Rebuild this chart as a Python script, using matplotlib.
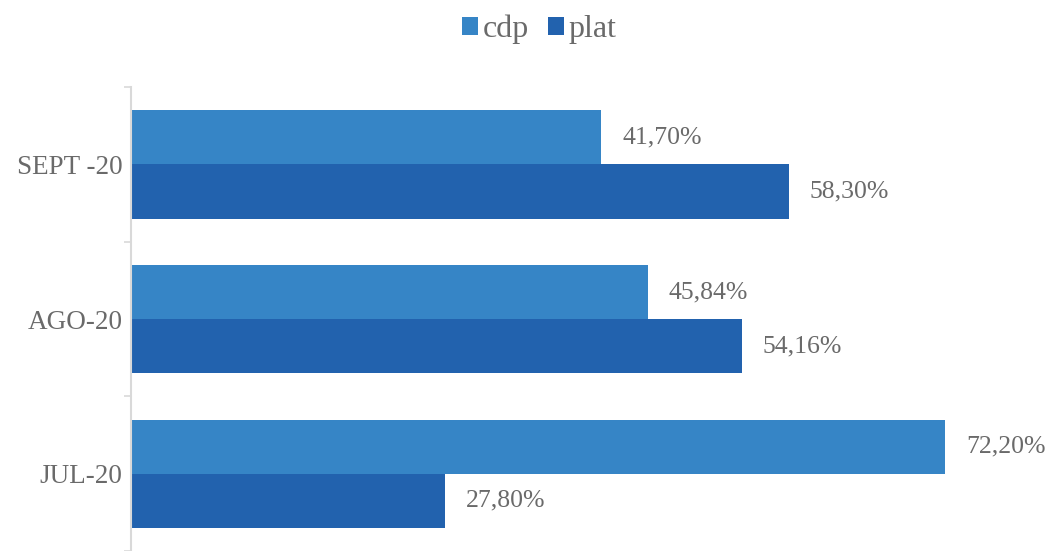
import matplotlib

matplotlib.use("Agg")
import matplotlib.pyplot as plt
import numpy as np

months = ["JUL-20", "AGO-20", "SEPT -20"]
cdp = [72.20, 45.84, 41.70]
plat = [27.80, 54.16, 58.30]

cdp_color = "#3685C6"
plat_color = "#2262AE"
text_color = "#6A6A6A"

plt.rcParams["font.family"] = ["Liberation Serif", "DejaVu Serif"]

fig = plt.figure(figsize=(10.47, 5.51), dpi=100)
ax = fig.add_axes([0.1251, 0.0, 0.862, 0.842])

y = np.arange(len(months))
h = 0.35
bars_cdp = ax.barh(y + h / 2, cdp, height=h, color=cdp_color, label="cdp")
bars_plat = ax.barh(y - h / 2, plat, height=h, color=plat_color, label="plat")

def pct(v):
    return f"{v:.2f}%".replace(".", ",")

for bars, vals in ((bars_cdp, cdp), (bars_plat, plat)):
    for bar, v in zip(bars, vals):
        ax.annotate(pct(v), (v, bar.get_y() + bar.get_height() / 2),
                    xytext=(15, 0), textcoords="offset points",
                    va="center", ha="left", fontsize=18.5, color=text_color)

ax.set_xlim(0, 80)
ax.set_ylim(-0.5, len(months) - 0.5)
ax.set_xticks([])
ax.set_yticks(y)
ax.set_yticklabels(months, fontsize=19.5, color=text_color)
ax.set_yticks(np.arange(-0.5, len(months), 1.0), minor=True)
ax.tick_params(axis="y", which="major", length=0, pad=6)
ax.tick_params(axis="y", which="minor", length=5, width=1.2, color="#D9D9D9")

for side in ("top", "right", "bottom"):
    ax.spines[side].set_visible(False)
ax.spines["left"].set_color("#D9D9D9")
ax.spines["left"].set_linewidth(1.5)

fig.legend(handles=[bars_cdp, bars_plat], labels=["cdp", "plat"],
           loc="upper center", bbox_to_anchor=(0.515, 1.025), ncol=2,
           frameon=False, fontsize=23, handlelength=0.5, handleheight=0.5,
           handletextpad=0.15, columnspacing=0.6, labelcolor=text_color)

fig.savefig("out.png", dpi=100)
